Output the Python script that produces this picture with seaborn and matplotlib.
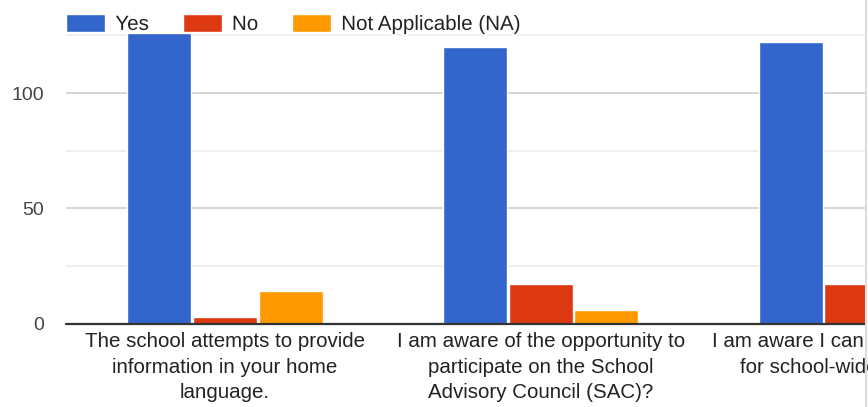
import matplotlib
matplotlib.use("Agg")
import matplotlib.pyplot as plt
import matplotlib.patheffects as pe
from matplotlib.lines import Line2D
import seaborn as sns
import pandas as pd

# survey questions (third one is cut off at the right edge)
questions = [
    "The school attempts to provide\ninformation in your home\nlanguage.",
    "I am aware of the opportunity to\nparticipate on the School\nAdvisory Council (SAC)?",
    "I am aware I can be a volunteer\nfor school-wide activities?",
]
answers = ["Yes", "No", "Not Applicable (NA)"]
yes_counts = [126, 120, 122]
no_counts = [3, 17, 17]
na_counts = [14, 6, 5]

colors = {"Yes": "#3366cc", "No": "#dc3912", "Not Applicable (NA)": "#ff9900"}

df = pd.DataFrame({"question": questions, "Yes": yes_counts,
                   "No": no_counts, "Not Applicable (NA)": na_counts})
df = df.melt(id_vars="question", var_name="answer", value_name="count")

sns.set_theme(style="white")
plt.rcParams["font.family"] = ["Liberation Sans", "DejaVu Sans"]

W, H = 868, 407
fig = plt.figure(figsize=(W / 100, H / 100), dpi=100)
base_y = 323.5
top_y = 29.7
ax = fig.add_axes([66 / W, (H - base_y) / H, (865 - 66) / W, (base_y - top_y) / H])

sns.barplot(data=df, x="question", y="count", hue="answer", hue_order=answers,
            palette=colors, width=0.624, gap=0.025, saturation=1,
            errorbar=None, ax=ax)
handles, labels = ax.get_legend_handles_labels()
ax.get_legend().remove()

ax.set_ylim(0, 127.5)
ax.set_xlim(-0.504, 2.028)
ax.set_yticks([0, 50, 100])
ax.set_yticks([25, 75, 125], minor=True)
ax.yaxis.grid(True, which="major", color="#cccccc", lw=1.1)
ax.yaxis.grid(True, which="minor", color="#ebebeb", lw=1.1)
ax.set_axisbelow(True)
ax.axhline(0, color="#333333", lw=1.6, zorder=5, clip_on=False)
for s in ax.spines.values():
    s.set_visible(False)

ax.set_xlabel("")
ax.set_ylabel("")
ax.tick_params(axis="both", which="both", length=0)
ax.tick_params(axis="y", pad=16, labelsize=14, labelcolor="#444444")
ax.tick_params(axis="x", pad=6, labelsize=14.8, labelcolor="#222222")
for t in ax.get_xticklabels():
    t.set_linespacing(1.45)

leg = fig.legend(handles, labels, loc="center left",
                 bbox_to_anchor=(66 / W, 1 - 24 / H), ncol=3, frameon=False,
                 fontsize=14.8, handlelength=1.9, handleheight=0.93,
                 handletextpad=0.5, columnspacing=1.65, borderpad=0,
                 borderaxespad=0)
for t in leg.get_texts():
    t.set_color("#222222")
    t.set_path_effects([pe.withStroke(linewidth=3, foreground="white")])

fig.add_artist(Line2D([865.5 / W, 865.5 / W], [0, 1], color="#dddddd", lw=1.5))

fig.savefig("out.png", dpi=100)
